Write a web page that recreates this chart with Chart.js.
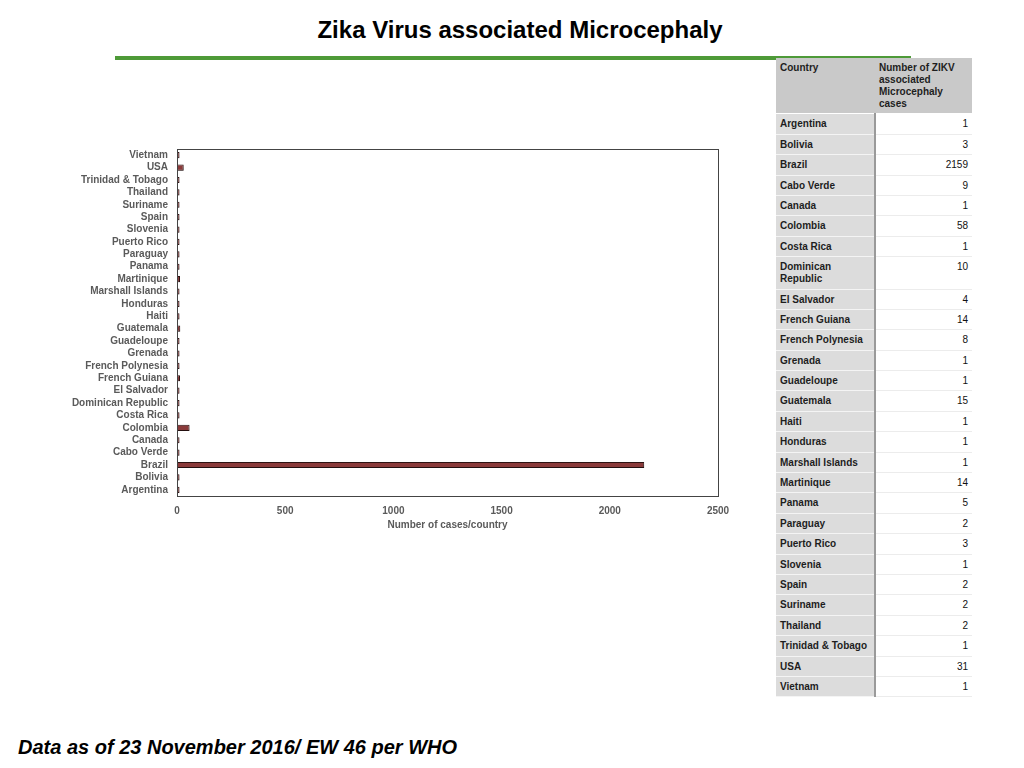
<!DOCTYPE html>
<html>
<head>
<meta charset="utf-8">
<script src="https://cdn.jsdelivr.net/npm/chart.js@4"></script>
<style>
  body { margin: 0; background: #fff; font-family: "Liberation Sans", Arial, sans-serif; }
  #page { position: relative; width: 1024px; height: 768px; overflow: hidden; }
  #title { position: absolute; left: 0; width: 1040px; top: 16px; text-align: center;
           font: bold 24px "Liberation Sans Narrow", "Liberation Sans", sans-serif; color: #000; }
  #rule { position: absolute; left: 115px; top: 56px; width: 796px; height: 4px; background: #4e9a38; }
  #wrap { position: absolute; left: 0; top: 134px; width: 740px; height: 406px; }
  #tbl { position: absolute; left: 776px; top: 58px; width: 196px; border-collapse: collapse;
         font: bold 10px "Liberation Sans", sans-serif; color: #1e1e1e; }
  #tbl td, #tbl th { line-height: 12px; padding: 4px 4px 3.4px 4px; vertical-align: top;
                     border-bottom: 1px solid #ececec; }
  #tbl th { background: #c9c9c9; font-weight: bold; text-align: left; height: 47px; border-bottom: 1px solid #fff; }
  #tbl td.c { background: #dcdcdc; width: 90px; border-right: 2px solid #9a9a9a; border-bottom-color: #f4f4f4; }
  #tbl td.v { background: #fff; text-align: right; font-weight: normal; color: #111; }
  #tbl th.h1 { width: 90px; }
  #note { position: absolute; left: 18px; top: 736px; font: italic bold 20px "Liberation Sans", sans-serif; color: #000; }
</style>
</head>
<body>
<div id="page">
  <div id="title">Zika Virus associated Microcephaly</div>
  <div id="rule"></div>
  <div id="wrap"><canvas id="zikaChart" width="740" height="406"></canvas></div>
  <table id="tbl"></table>
  <div id="note">Data as of 23 November 2016/ EW 46 per WHO</div>
</div>
<script>
const countries = ["Argentina", "Bolivia", "Brazil", "Cabo Verde", "Canada", "Colombia", "Costa Rica",
    "Dominican Republic", "El Salvador", "French Guiana", "French Polynesia", "Grenada", "Guadeloupe",
    "Guatemala", "Haiti", "Honduras", "Marshall Islands", "Martinique", "Panama", "Paraguay",
    "Puerto Rico", "Slovenia", "Spain", "Suriname", "Thailand", "Trinidad & Tobago", "USA", "Vietnam"];
const cases = [1, 3, 2159, 9, 1, 58, 1, 10, 4, 14, 8, 1, 1, 15, 1, 1, 1, 14, 5, 2, 3, 1, 2, 2, 2, 1, 31, 1];
const xTicks = [0, 500, 1000, 1500, 2000, 2500];

// table beside the chart
const tbl = document.getElementById("tbl");
let html = '<tr><th class="h1">Country</th><th>Number of ZIKV<br>associated<br>Microcephaly<br>cases</th></tr>';
countries.forEach((c, i) => {
    const name = c === "Dominican Republic" ? "Dominican<br>Republic" : c;
    html += '<tr><td class="c">' + name + '</td><td class="v">' + cases[i] + '</td></tr>';
});
tbl.innerHTML = html;

const barShadow = {
    id: "barShadow",
    beforeDatasetsDraw(chart) {
        const ctx = chart.ctx;
        ctx.save();
        ctx.shadowColor = "rgba(0,0,0,0.4)";
        ctx.shadowOffsetX = 1;
        ctx.shadowOffsetY = 3;
        ctx.shadowBlur = 4;
    },
    afterDatasetsDraw(chart) {
        chart.ctx.restore();
    }
};

const plotBox = {
    id: "plotBox",
    afterDraw(chart) {
        const a = chart.chartArea, ctx = chart.ctx;
        ctx.save();
        ctx.strokeStyle = "#444";
        ctx.lineWidth = 1;
        ctx.strokeRect(a.left + 0.5, a.top + 0.5, a.right - a.left, a.bottom - a.top);
        ctx.restore();
    }
};

const ctx = document.getElementById("zikaChart").getContext("2d");
const chart = new Chart(ctx, {
    type: "bar",
    data: {
        labels: countries,
        datasets: [{
            label: "Number of cases/country",
            data: cases,
            backgroundColor: "#8a3a3a",
            borderColor: "#2e1414",
            borderWidth: 1,
            borderSkipped: false,
            minBarLength: 2.5,
            categoryPercentage: 1,
            barPercentage: 0.5
        }]
    },
    options: {
        indexAxis: "y",
        responsive: false,
        animation: false,
        layout: { padding: { top: 3, right: 22 } },
        scales: {
            x: {
                min: 0,
                max: 2500,
                afterBuildTicks: s => { s.ticks = xTicks.map(v => ({ value: v })); },
                afterFit: s => { s.height = 44; },
                grid: { display: false, drawTicks: false },
                border: { display: false },
                ticks: {
                    color: "#5a5a5a",
                    font: { family: "Liberation Sans", size: 10, weight: "bold" },
                    padding: 9,
                    callback: v => String(v)
                },
                title: {
                    display: true,
                    text: "Number of cases/country",
                    color: "#5a5a5a",
                    font: { family: "Liberation Sans", size: 10, weight: "bold" },
                    padding: { top: 2, bottom: 9 }
                }
            },
            y: {
                reverse: true,
                afterFit: s => { s.width = 177; },
                grid: { display: false, drawTicks: false },
                border: { display: false },
                ticks: { color: "#5a5a5a", font: { family: "Liberation Sans", size: 10, weight: "bold" }, padding: 9, autoSkip: false }
            }
        },
        plugins: {
            legend: { display: false },
            tooltip: { enabled: false }
        }
    },
    plugins: [barShadow, plotBox]
});
</script>
</body>
</html>
